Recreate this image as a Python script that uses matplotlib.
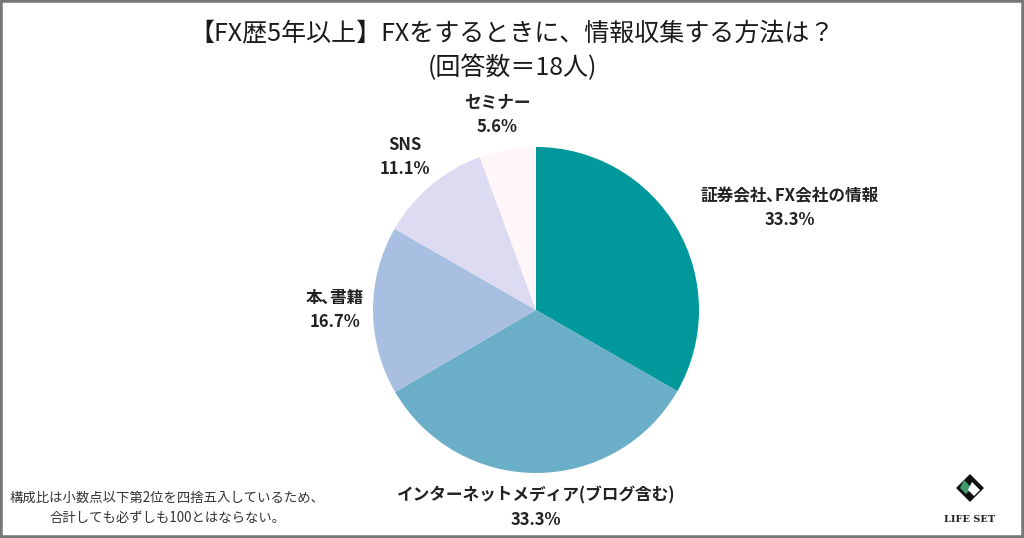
import matplotlib
matplotlib.use("Agg")
import matplotlib.pyplot as plt
from matplotlib.patches import Rectangle, Polygon

plt.rcParams['font.family'] = ['Noto Sans CJK JP', 'DejaVu Sans']

title = "【FX歴5年以上】FXをするときに、情報収集する方法は？\n(回答数＝18人)"
categories = ["証券会社､FX会社の情報", "インターネットメディア(ブログ含む)", "本､書籍", "SNS", "セミナー"]
values = [33.3, 33.3, 16.7, 11.1, 5.6]
pct_labels = ["33.3%", "33.3%", "16.7%", "11.1%", "5.6%"]
colors = ["#00989B", "#6BAEC7", "#A9BFE1", "#DDDBF1", "#FEF6F9"]
note = "構成比は小数点以下第2位を四捨五入しているため、\n合計しても必ずしも100とはならない。"

W, H = 1024, 538
fig = plt.figure(figsize=(W / 100, H / 100), dpi=100)
ax = fig.add_axes([0, 0, 1, 1])

cx, cy, r = 536, H - 310, 163
ax.pie(values, colors=colors, startangle=90, counterclock=False,
       center=(cx, cy), radius=r, frame=True,
       wedgeprops=dict(linewidth=0))
ax.set_xlim(0, W)
ax.set_ylim(0, H)
ax.set_aspect('equal')
ax.axis('off')

# label positions (pixel coords from top)
label_pos = [(790, 208), (536, 508), (335, 310), (405, 157), (497, 115)]
for (lx, ly), cat, p in zip(label_pos, categories, pct_labels):
    ax.text(lx, H - ly, cat + "\n" + p, ha='center', va='center',
            fontsize=12, fontweight='bold', color='#222222', linespacing=1.45)

fig.text(0.5, 1 - 51 / H, title, ha='center', va='center', fontsize=18,
         color='#1a1a1a', linespacing=1.4)

fig.text(10 / W, 1 - 508 / H, note, ha='left', va='center', fontsize=9.6,
         color='#333333', linespacing=1.6, multialignment='center')

# logo
lx0, ly0 = 970, H - 488
s = 14
ax.add_patch(Polygon([(lx0, ly0 + s), (lx0 + s, ly0), (lx0, ly0 - s), (lx0 - s, ly0)],
                     closed=True, facecolor='#111111', edgecolor='none'))
ax.add_patch(Polygon([(lx0 - 6, ly0 + 8), (lx0 + 2, ly0), (lx0 - 4, ly0 - 6), (lx0 - 10, ly0)],
                     closed=True, facecolor='#3f9a6a', edgecolor='none'))
ax.add_patch(Polygon([(lx0 + 2, ly0 + 6), (lx0 + 10, ly0 - 2), (lx0 + 4, ly0 - 8), (lx0 - 2, ly0 - 2)],
                     closed=True, facecolor='#ffffff', edgecolor='none'))
ax.text(lx0, H - 519, "LIFE SET", ha='center', va='center', fontsize=7,
        fontweight='bold', family='DejaVu Serif', color='#222222')

# border
fig.patches.append(Rectangle((0, 0), 1, 1, transform=fig.transFigure,
                             fill=False, edgecolor='#777777', linewidth=4))

fig.savefig("out.png", dpi=100, facecolor='white')
